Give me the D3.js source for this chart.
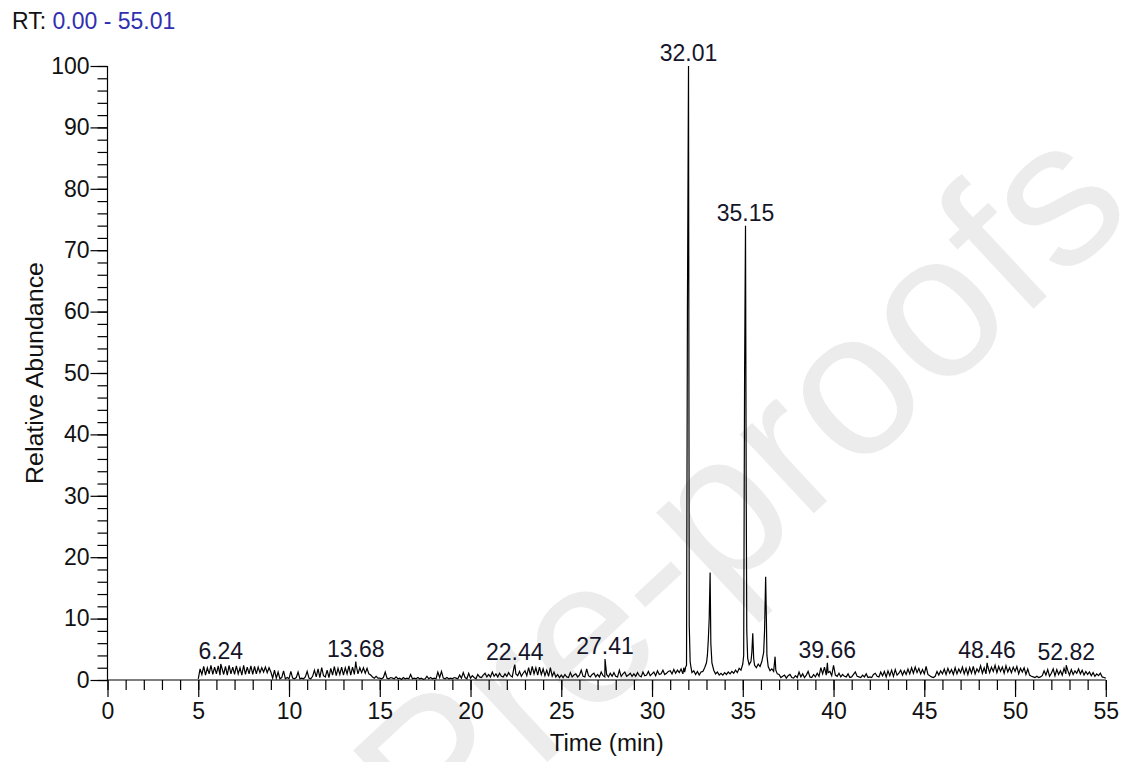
<!DOCTYPE html>
<html>
<head>
<meta charset="utf-8">
<script src="https://cdn.jsdelivr.net/npm/d3@7/dist/d3.min.js"></script>
<style>
  html, body { margin: 0; padding: 0; background: #ffffff; }
  svg { display: block; }
  text { font-family: "Liberation Sans", Arial, sans-serif; }
</style>
</head>
<body>
<svg id="chart" width="1125" height="762"></svg>
<script>
// ---------------- DATA ----------------
const rtRange = [0.00, 55.01];
const xTickValues = [0, 5, 10, 15, 20, 25, 30, 35, 40, 45, 50, 55];
const yTickValues = [0, 10, 20, 30, 40, 50, 60, 70, 80, 90, 100];
const scanStep = 0.1;

// baseline noise, one value per 0.1 min, 5.0 -> 31.4 min
const noiseAStart = 5.0;
const noiseA = [
  0.2,1.8,0.9,2.2,0.8,2.0,1.0,2.4,0.9,2.1,   // 5
  1.0,2.3,0.8,2.0,0.9,2.2,0.8,2.4,1.0,2.1,   // 6
  0.9,2.3,1.0,2.0,0.8,2.4,0.9,2.1,1.0,2.3,   // 7
  0.9,2.2,1.0,2.1,1.2,2.0,1.3,2.1,1.2,2.0,   // 8
  1.3,0.3,1.6,0.3,1.3,0.2,0.4,1.5,0.2,0.4,   // 9
  0.2,1.4,0.3,0.2,0.4,1.3,0.2,0.3,0.2,0.5,   // 10
  1.4,0.3,0.2,0.6,1.6,0.5,1.8,0.4,2.0,0.7,   // 11
  0.5,1.6,0.4,1.9,0.8,2.2,0.7,1.9,0.9,2.1,   // 12
  0.8,2.0,1.0,2.3,0.8,2.1,0.9,2.4,1.0,2.0,   // 13
  1.2,2.0,1.1,1.9,1.0,0.8,0.5,0.3,0.6,0.3,   // 14
  0.3,0.2,0.4,1.3,0.3,0.2,0.4,0.3,0.2,0.5,   // 15
  0.2,0.3,0.1,0.4,0.2,0.3,0.2,0.9,0.2,0.3,   // 16
  0.2,0.4,0.2,0.3,0.1,0.2,0.6,0.2,0.4,0.2,   // 17
  0.3,0.2,1.3,0.4,1.4,0.3,0.2,0.4,0.2,0.3,   // 18
  0.2,0.4,0.3,0.2,0.8,0.3,1.2,0.4,0.2,1.1,   // 19
  0.3,0.7,0.4,0.2,0.9,0.5,0.4,0.8,1.1,0.5,   // 20
  0.9,0.5,1.3,0.6,1.0,0.5,1.1,0.6,0.5,1.0,   // 21
  0.6,1.2,0.7,0.5,2.1,1.0,0.7,1.4,0.6,1.1,   // 22
  1.5,0.7,2.0,0.8,2.2,1.0,2.0,0.8,2.1,0.9,   // 23
  1.8,0.7,1.6,0.6,2.0,0.6,1.3,0.5,0.9,0.4,   // 24
  0.8,0.4,0.9,0.5,0.4,1.2,0.5,0.8,1.0,0.5,   // 25
  0.8,1.6,0.6,0.5,1.8,0.7,0.5,0.9,1.1,0.5,   // 26
  0.9,0.5,1.3,0.7,0.5,0.9,0.5,1.1,0.6,1.2,   // 27
  0.6,0.5,1.6,0.6,1.0,1.3,0.6,0.8,1.1,0.6,   // 28
  1.0,0.6,1.2,0.7,0.5,1.3,0.7,0.8,1.4,0.7,   // 29
  1.0,1.3,0.7,1.5,0.9,1.0,1.6,0.9,1.1,1.4,   // 30
  1.5,1.0,1.7,1.1,1.6                        // 31.0-31.4
];

// main elution region, explicit [time, abundance]
const peakRegion = [
  [31.5,1.2],[31.6,1.8],[31.7,1.0],[31.75,2.0],[31.8,1.3],[31.85,2.1],[31.9,2.4],
  [31.95,60],[32.01,100],[32.05,9],[32.1,3.0],[32.15,2.0],[32.2,1.2],[32.3,1.5],
  [32.4,0.9],[32.5,1.4],[32.6,0.8],[32.7,1.3],[32.8,1.4],[32.9,2.0],[33.0,2.8],
  [33.05,4],[33.1,6.5],[33.15,10],[33.2,17.5],[33.24,6],[33.3,2.8],[33.4,1.6],
  [33.5,1.0],[33.6,1.3],[33.7,0.8],[33.8,1.1],[33.9,0.8],[34.0,1.2],[34.1,0.9],
  [34.2,1.3],[34.3,1.0],[34.4,1.4],[34.5,1.1],[34.6,1.6],[34.7,1.2],[34.8,1.9],
  [34.9,1.6],[35.0,2.6],[35.05,4],[35.1,50],[35.15,74],[35.19,30],[35.22,8],
  [35.27,3.5],[35.35,2.5],[35.45,3.0],[35.5,4.5],[35.55,7.6],[35.6,3.5],[35.65,2.4],
  [35.75,2.0],[35.85,2.6],[35.95,2.2],[36.05,3.0],[36.15,4.5],[36.2,8],[36.26,16.8],
  [36.3,10],[36.33,4],[36.4,2.2],[36.5,1.5],[36.6,1.8],[36.7,1.4],[36.78,3.8],
  [36.82,1.6],[36.9,1.0]
];

// baseline noise, one value per 0.1 min, 37.0 -> 55.0 min
const noiseBStart = 37.0;
const noiseB = [
  0.9,0.4,0.6,0.8,0.3,0.7,0.9,0.4,0.3,0.7,   // 37
  0.4,1.3,0.5,1.0,0.4,0.8,1.4,0.5,0.4,0.9,   // 38
  0.5,1.1,0.6,2.0,1.0,2.1,0.8,1.2,1.4,0.7,   // 39
  2.4,0.8,0.6,1.1,0.5,0.9,0.6,0.5,1.0,0.4,   // 40
  0.5,0.9,1.3,0.6,0.5,0.4,0.8,0.5,1.0,0.4,   // 41
  0.5,0.4,0.9,1.1,0.6,0.5,1.3,0.7,1.4,0.5,   // 42
  1.5,0.7,1.6,0.6,1.7,0.8,1.1,1.6,0.8,1.5,   // 43
  0.9,1.8,1.0,2.0,1.1,2.1,1.2,1.9,1.0,1.7,   // 44
  1.0,2.2,0.9,0.7,0.5,0.4,0.6,1.4,0.8,1.5,   // 45
  1.0,1.8,0.9,1.9,1.1,1.7,0.9,2.0,1.0,1.8,   // 46
  1.2,2.1,1.0,1.9,0.9,2.0,1.1,2.2,1.0,1.8,   // 47
  1.3,2.3,1.1,2.0,1.0,2.2,1.2,2.1,1.4,2.4,   // 48
  1.2,2.2,1.4,2.1,1.1,2.3,1.3,2.0,1.2,2.1,   // 49
  1.4,2.2,1.0,1.9,1.3,2.0,0.9,1.8,0.8,0.6,   // 50
  0.5,0.4,0.6,0.4,0.5,0.7,1.5,0.8,1.7,0.6,   // 51
  1.1,1.8,0.7,1.7,0.9,1.5,0.8,1.9,1.0,1.6,   // 52
  0.8,1.7,0.9,1.5,1.1,1.8,1.0,1.6,0.8,1.4,   // 53
  0.9,1.3,0.7,1.2,0.6,1.0,0.7,1.1,0.5,0.4,   // 54
  0.3                                        // 55.0
];

// labelled apex points
const labelledPeaks = [
  [6.24,2.6],[13.68,3.0],[22.44,2.5],[27.41,3.4],[39.66,2.8],[48.46,2.8],[52.82,2.4]
];
const peakLabelTimes = [6.24, 13.68, 22.44, 27.41, 32.01, 35.15, 39.66, 48.46, 52.82];

// ---------------- BUILD SERIES ----------------
const series = []
  .concat(noiseA.map((v, i) => [+(noiseAStart + i * scanStep).toFixed(2), v]))
  .concat(peakRegion)
  .concat(noiseB.map((v, i) => [+(noiseBStart + i * scanStep).toFixed(2), v]))
  .concat(labelledPeaks)
  .sort((a, b) => a[0] - b[0]);

// ---------------- DRAW ----------------
const svg = d3.select("#chart");
const x = d3.scaleLinear().domain([0, 55]).range([107.5, 1105.8]);
const y = d3.scaleLinear().domain([0, 100]).range([680, 66]);
const FONT = 23;

// watermark
svg.append("text")
  .attr("transform", "translate(437,865) rotate(-43)")
  .attr("font-size", 205)
  .attr("fill", "#ececec")
  .text("Pre-proofs");

// trace
const line = d3.line().x(d => x(d[0])).y(d => y(d[1]));
svg.append("path")
  .datum(series)
  .attr("d", line)
  .attr("fill", "none")
  .attr("stroke", "#000")
  .attr("stroke-width", 1.2)
  .attr("stroke-linejoin", "miter");

// x axis minor
svg.append("g")
  .attr("transform", `translate(0,${y(0)})`)
  .call(d3.axisBottom(x).tickValues(d3.range(0, 56, 1)).tickSize(10).tickSizeOuter(0).tickFormat(""))
  .call(g => g.select(".domain").remove());
// x axis major
const gx = svg.append("g")
  .attr("transform", `translate(0,${y(0)})`)
  .call(d3.axisBottom(x).tickValues(xTickValues).tickSize(17).tickSizeOuter(0).tickPadding(6).tickFormat(d3.format("d")));
gx.select(".domain").attr("d", `M${x(0)},0H${x(55)}`);
gx.selectAll("text").attr("font-size", FONT).attr("fill", "#111").attr("font-family", null);

// y axis minor
svg.append("g")
  .attr("transform", `translate(${x(0)},0)`)
  .call(d3.axisLeft(y).tickValues(d3.range(0, 101, 2)).tickSize(10).tickSizeOuter(0).tickFormat(""))
  .call(g => g.select(".domain").remove());
// y axis major
const gy = svg.append("g")
  .attr("transform", `translate(${x(0)},0)`)
  .call(d3.axisLeft(y).tickValues(yTickValues).tickSize(17).tickSizeOuter(0).tickPadding(1).tickFormat(d3.format("d")));
gy.select(".domain").attr("d", `M0,${y(0)}V${y(100)}`);
gy.selectAll("text").attr("font-size", FONT).attr("fill", "#111").attr("font-family", null);

svg.selectAll(".domain, .tick line").attr("stroke", "#000").attr("stroke-width", 1.2);

// axis titles
svg.append("text")
  .attr("x", (x(0) + x(55)) / 2)
  .attr("y", 751)
  .attr("text-anchor", "middle")
  .attr("font-size", FONT)
  .attr("fill", "#111")
  .attr("textLength", 114)
  .attr("lengthAdjust", "spacingAndGlyphs")
  .text("Time (min)");

svg.append("text")
  .attr("transform", `translate(43,${(y(0) + y(100)) / 2}) rotate(-90)`)
  .attr("text-anchor", "middle")
  .attr("font-size", FONT)
  .attr("fill", "#111")
  .attr("textLength", 222)
  .attr("lengthAdjust", "spacingAndGlyphs")
  .text("Relative Abundance");

// RT header
const rt = svg.append("text")
  .attr("x", 12)
  .attr("y", 29)
  .attr("font-size", FONT);
rt.append("tspan").attr("fill", "#111").text("RT: ");
rt.append("tspan").attr("fill", "#3030b0").text(`${rtRange[0].toFixed(2)} - ${rtRange[1].toFixed(2)}`);

// peak labels
const apex = t => d3.max(series.filter(d => Math.abs(d[0] - t) < 0.021), d => d[1]);
svg.append("g").selectAll("text")
  .data(peakLabelTimes)
  .join("text")
  .attr("x", d => x(d))
  .attr("y", d => y(apex(d)) - 5)
  .attr("text-anchor", "middle")
  .attr("font-size", FONT)
  .attr("fill", "#15152a")
  .text(d => d.toFixed(2));
</script>
</body>
</html>
